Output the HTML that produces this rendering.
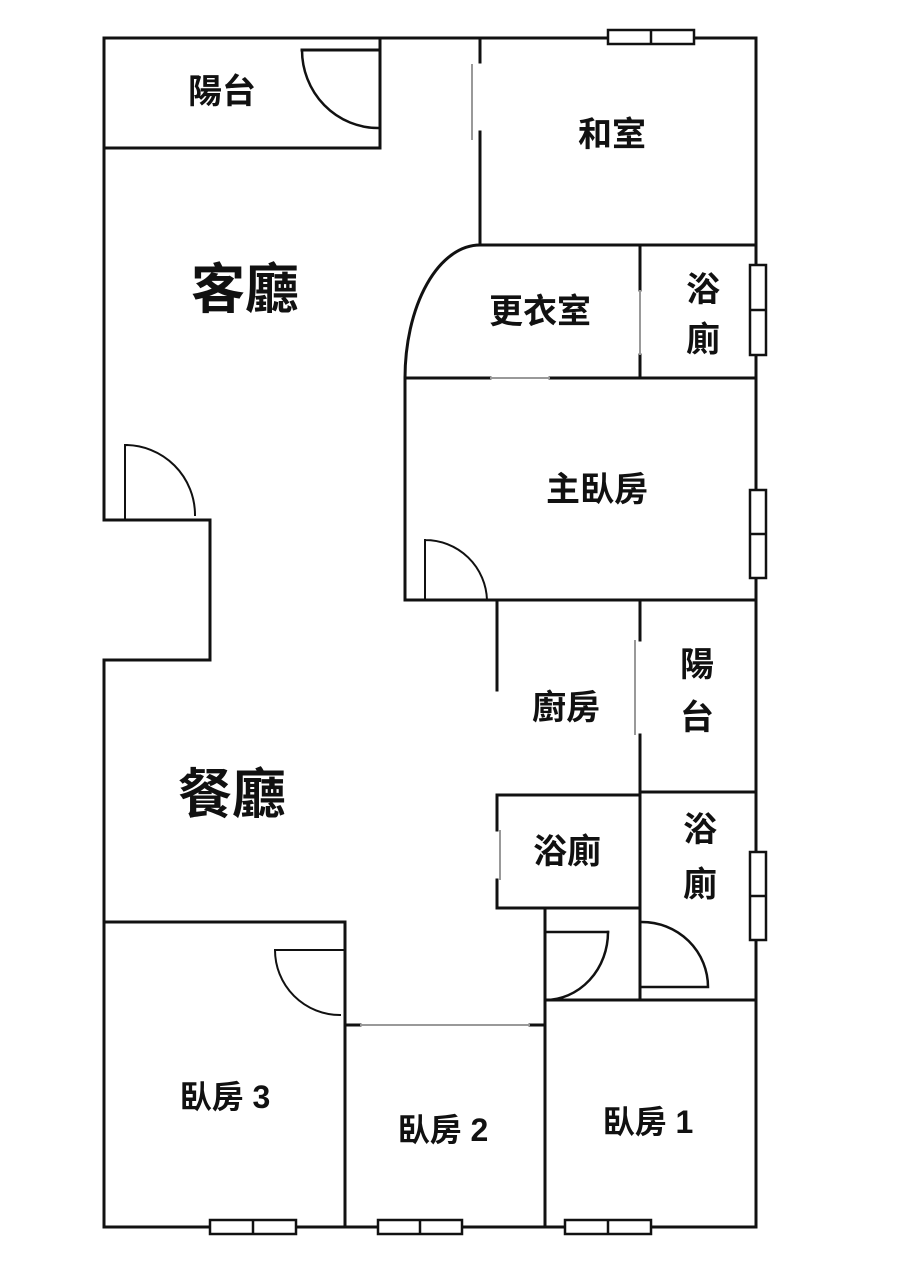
<!DOCTYPE html>
<html><head><meta charset="utf-8"><style>
html,body{margin:0;padding:0;background:#fff;}
svg{display:block}
text{font-family:"Liberation Sans","Noto Sans CJK TC",sans-serif;font-weight:bold;fill:#111;text-anchor:middle;dominant-baseline:central}
</style></head><body>
<svg width="900" height="1273" viewBox="0 0 900 1273" xmlns="http://www.w3.org/2000/svg">
<g stroke="#111" stroke-width="3" fill="none" stroke-linecap="square">
<path d="M104 38 H756 V1227 H104 V660 H210 V520 H104 Z"/>
<path d="M104 148 H380 V38"/>
<path d="M302 50 H380"/>
<path d="M302 50 A76 78 0 0 0 378 128" stroke-width="2.5"/>
<path d="M480 38 V62 M480 132 V245"/>
<path d="M480 245 H756"/>
<path d="M480 245 A75 133 0 0 0 405 378"/>
<path d="M640 245 V290 M640 355 V378"/>
<path d="M405 378 H490 M550 378 H756"/>
<path d="M405 378 V600 H756"/>
<path d="M425 600 V540 M425 540 A62 62 0 0 1 487 600" stroke-width="2"/>
<path d="M497 600 V690"/>
<path d="M640 600 V640 M640 735 V1000"/>
<path d="M640 792 H756"/>
<path d="M497 795 H640 M497 795 V830 M497 880 V908 H640"/>
<path d="M545 908 V1227"/>
<path d="M545 932 H608" stroke-width="2.5"/>
<path d="M608 932 A63 68 0 0 1 545 1000" stroke-width="2.5"/>
<path d="M642 922 A66 65 0 0 1 708 987 H642" stroke-width="2.5"/>
<path d="M640 1000 H756"/>
<path d="M104 922 H345 V1227"/>
<path d="M275 950 H345 M275 950 A65 65 0 0 0 340 1015" stroke-width="2"/>
<path d="M345 1025 H360 M530 1025 H545"/>
<path d="M545 1000 H640"/>
<path d="M125 518 V445 M125 445 A70 70 0 0 1 195 515" stroke-width="2"/>
<path d="M104 520 H125"/>
</g>
<g stroke="#999" stroke-width="2">
<path d="M472 64 V140 M640 290 V355 M490 378 H550 M635 640 V735 M500 830 V880 M360 1025 H530"/>
</g>
<g stroke="#111" stroke-width="2.5" fill="#fff">
<rect x="608" y="30" width="86" height="14"/><path d="M651 30 V44"/>
<rect x="750" y="265" width="16" height="90"/><path d="M750 310 H766"/>
<rect x="750" y="490" width="16" height="88"/><path d="M750 534 H766"/>
<rect x="750" y="852" width="16" height="88"/><path d="M750 896 H766"/>
<rect x="210" y="1220" width="86" height="14"/><path d="M253 1220 V1234"/>
<rect x="378" y="1220" width="84" height="14"/><path d="M420 1220 V1234"/>
<rect x="565" y="1220" width="86" height="14"/><path d="M608 1220 V1234"/>
</g>
<text x="222" y="92" font-size="34">陽台</text>
<text x="612" y="135" font-size="34">和室</text>
<text x="245" y="290" font-size="54">客廳</text>
<text x="540" y="312" font-size="34">更衣室</text>
<text x="703" y="290" font-size="34">浴</text>
<text x="703" y="340" font-size="34">廁</text>
<text x="597" y="490" font-size="34">主臥房</text>
<text x="566" y="708" font-size="34">廚房</text>
<text x="697" y="665" font-size="34">陽</text>
<text x="697" y="718" font-size="34">台</text>
<text x="232" y="795" font-size="54">餐廳</text>
<text x="567" y="852" font-size="34">浴廁</text>
<text x="700" y="830" font-size="34">浴</text>
<text x="700" y="885" font-size="34">廁</text>
<text x="225" y="1097" font-size="32">臥房 3</text>
<text x="443" y="1130" font-size="32">臥房 2</text>
<text x="648" y="1122" font-size="32">臥房 1</text>
</svg>
</body></html>
